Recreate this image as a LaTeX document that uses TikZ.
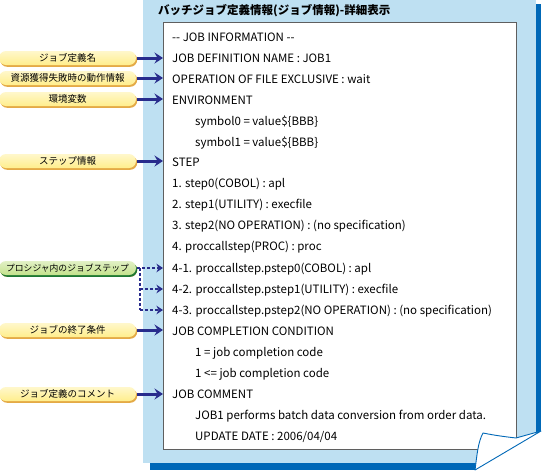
\documentclass[tikz,border=0pt]{standalone}
\usepackage{fontspec}
\setmainfont{Noto Sans CJK JP}[Ligatures=NoCommon]
\usetikzlibrary{arrows.meta}
\definecolor{panel}{RGB}{190,224,242}
\definecolor{strip}{RGB}{0,104,183}
\definecolor{navy}{RGB}{40,44,140}
\definecolor{pillY}{RGB}{255,238,140}
\definecolor{pillYd}{RGB}{228,170,70}
\definecolor{pillG}{RGB}{196,226,140}
\definecolor{pillGd}{RGB}{30,120,50}
\definecolor{boxline}{RGB}{95,95,95}
\tikzset{
  pill/.style={minimum width=137pt, minimum height=14pt, rounded corners=7pt, inner sep=0pt,
    preaction={fill=pillYd, transform canvas={shift={(1.2pt,-1.8pt)}}},
    top color=pillY!45!white, bottom color=pillY, font=\fontsize{9.5}{10}\selectfont},
  gpill/.style={pill, preaction={fill=pillGd, transform canvas={shift={(1.2pt,-1.8pt)}}},
    top color=pillG!50!white, bottom color=pillG, font=\fontsize{8.8}{10}\selectfont},
  txt/.style={anchor=west, inner sep=0pt, text height=8.2pt, text depth=0pt, font=\fontsize{11.5}{12}\selectfont},
  titletxt/.style={anchor=west, inner sep=0pt, font=\fontsize{11.5}{12}\selectfont\bfseries},
  conn/.style={draw=navy, line width=3pt, -{Stealth[length=8.5pt,width=11pt,inset=3pt]}},
  dconn/.style={draw=navy, line width=1.8pt, dash pattern=on 3pt off 2pt, -{Stealth[length=6.5pt,width=8.5pt,inset=2pt]}},
  dline/.style={draw=navy, line width=1.8pt, dash pattern=on 3pt off 2pt}
}
\begin{document}
\begin{tikzpicture}[x=1pt,y=-1pt]
\useasboundingbox (0,0) rectangle (543,472);
% panel and shadow strips
\fill[panel] (143,0) rectangle (536,463);
\fill[strip] (536,4) rectangle (541,440);
\fill[strip] (150,463) rectangle (480,470);
\node[titletxt] (t) at (158,11) {バッチジョブ定義情報(ジョブ情報)-詳細表示};
% inner box
\node[draw=boxline, line width=1pt, fill=white, anchor=north west, inner sep=0pt, minimum width=353pt, minimum height=427pt] (box) at (163,22) {};
% curl
\fill[white] (483,433) .. controls (498,436) and (508,437) .. (516,438) -- (541,431) -- (543,431) -- (543,472) -- (470,472) -- (475,470) .. controls (477,455) and (478,442) .. cycle;
\draw[strip, line width=0.9pt, line join=round] (483,433) .. controls (498,436) and (508,437) .. (516,438) -- (541,431) -- (475,470) .. controls (477,455) and (478,442) .. cycle;
% text lines
\node[txt] (l0) at (172,37) {-{}- JOB INFORMATION -{}-};
\node[txt] (l1) at (172,58) {JOB DEFINITION NAME : JOB1};
\node[txt] (l2) at (172,79) {OPERATION OF FILE EXCLUSIVE : wait};
\node[txt] (l3) at (172,100) {ENVIRONMENT};
\node[txt] (l4) at (195,121) {symbol0 = value\$\{BBB\}};
\node[txt] (l5) at (195,142) {symbol1 = value\$\{BBB\}};
\node[txt] (l6) at (172,162) {STEP};
\node[txt] (l7) at (172,183) {1. step0(COBOL) : apl};
\node[txt] (l8) at (172,204) {2. step1(UTILITY) : execfile};
\node[txt] (l9) at (172,225) {3. step2(NO OPERATION) : (no specification)};
\node[txt] (l10) at (172,246) {4. proccallstep(PROC) : proc};
\node[txt] (l11) at (172,268) {4-1. proccallstep.pstep0(COBOL) : apl};
\node[txt] (l12) at (172,289) {4-2. proccallstep.pstep1(UTILITY) : execfile};
\node[txt] (l13) at (172,310) {4-3. proccallstep.pstep2(NO OPERATION) : (no specification)};
\node[txt] (l14) at (172,331) {JOB COMPLETION CONDITION};
\node[txt] (l15) at (195,352) {1 = job completion code};
\node[txt] (l16) at (195,373) {1 <= job completion code};
\node[txt] (l17) at (172,394) {JOB COMMENT};
\node[txt] (l18) at (195,415) {JOB1 performs batch data conversion from order data.};
\node[txt] (l19) at (195,436) {UPDATE DATE : 2006/04/04};
% pills
\node[pill] (p1) at (67.5,58) {ジョブ定義名};
\node[pill] (p2) at (67.5,78) {資源獲得失敗時の動作情報};
\node[pill] (p3) at (67.5,99) {環境変数};
\node[pill] (p4) at (67.5,161) {ステップ情報};
\node[gpill] (p5) at (67.5,268) {プロシジャ内のジョブステップ};
\node[pill] (p6) at (67.5,330) {ジョブの終了条件};
\node[pill] (p7) at (67.5,394) {ジョブ定義のコメント};
% connectors
\draw[conn] ([xshift=1pt]p1.east) -- (p1.east -| box.west);
\draw[conn] ([xshift=1pt]p2.east) -- (p2.east -| box.west);
\draw[conn] ([xshift=1pt]p3.east) -- (p3.east -| box.west);
\draw[conn] ([xshift=1pt]p4.east) -- (p4.east -| box.west);
\draw[conn] ([xshift=1pt]p6.east) -- (p6.east -| box.west);
\draw[conn] ([xshift=1pt]p7.east) -- (p7.east -| box.west);
\coordinate (j) at ([xshift=4pt]p5.east);
\draw[dconn] ([xshift=1pt]p5.east) -- (p5.east -| box.west);
\draw[dline] (j) -- (j |- l13.west);
\draw[dconn] (j |- l12.west) -- (l12.west -| box.west);
\draw[dconn] (j |- l13.west) -- (l13.west -| box.west);
\end{tikzpicture}
\end{document}
